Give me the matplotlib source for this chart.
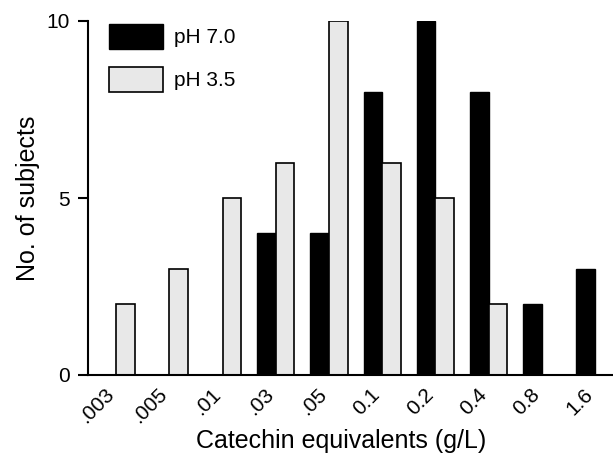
import numpy as np
import matplotlib
matplotlib.use("Agg")
import matplotlib.pyplot as plt

plt.rcParams['font.family'] = ['Liberation Sans', 'DejaVu Sans']

# concentration bins (g/L) and counts per pH
categories = ['.003', '.005', '.01', '.03', '.05', '0.1', '0.2', '0.4', '0.8', '1.6']
ph70 = [0, 0, 0, 4, 4, 8, 10, 8, 2, 3]
ph35 = [2, 3, 5, 6, 10, 6, 5, 2, 0, 0]

x = np.arange(len(categories))
w = 0.35

fig = plt.figure(figsize=(6.13, 4.53), dpi=100)
ax = fig.add_axes([88/613, 1 - 375/453, 1 - 88/613, (375 - 21)/453])

ax.bar(x - w/2, ph70, width=w, color='black', edgecolor='black', linewidth=1.0, label='pH 7.0')
ax.bar(x + w/2, ph35, width=w, color='#e8e8e8', edgecolor='black', linewidth=1.2, label='pH 3.5')

ax.set_xlim(-0.53, 9.34)
ax.set_ylim(0, 10)

for s in ['top', 'right']:
    ax.spines[s].set_visible(False)
for s in ['left', 'bottom']:
    ax.spines[s].set_linewidth(1.5)

ax.set_yticks([0, 5, 10])
ax.tick_params(axis='y', length=7, width=1.5, pad=6, labelsize=15)

# rotated labels hang just left of each group centre
ax.set_xticks(x - 0.22)
ax.set_xticklabels(categories, rotation=45, ha='right', va='top',
                   rotation_mode='anchor', fontsize=15)
ax.tick_params(axis='x', length=0, pad=7)

ax.set_ylabel('No. of subjects', fontsize=18, labelpad=5)
ax.set_xlabel('Catechin equivalents (g/L)', fontsize=18)
ax.xaxis.set_label_coords(0.483, -0.152)

ax.legend(loc='upper left', bbox_to_anchor=(109/613, 1 - 24/453),
          bbox_transform=fig.transFigure, frameon=False, fontsize=15,
          handlelength=2.6, handleheight=1.45, labelspacing=0.87,
          handletextpad=0.5, borderpad=0, borderaxespad=0)

fig.savefig('out.png', dpi=100)
